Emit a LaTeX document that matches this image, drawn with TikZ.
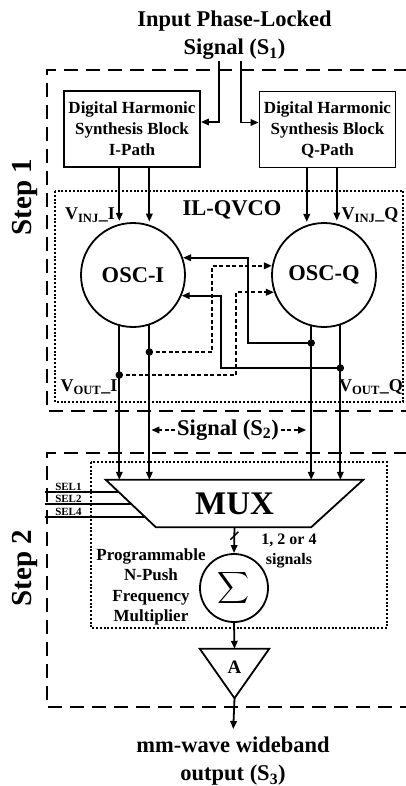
\documentclass[tikz,border=0pt]{standalone}
\usepackage{fontspec}
\usepackage{amsmath}
\usepackage{graphicx}
\setmainfont{Liberation Serif}
\usetikzlibrary{arrows.meta, positioning, calc}

\begin{document}
\begin{tikzpicture}[x=1pt, y=-1pt,
  blk/.style={draw, line width=1.8pt, minimum width=136pt, minimum height=76pt, inner sep=0pt, align=center, font=\fontsize{17}{21}\selectfont\bfseries},
  osc/.style={draw, circle, line width=1.8pt, minimum size=104pt, inner sep=0pt, font=\fontsize{22.5}{26}\selectfont\bfseries},
  sig/.style={line width=1.8pt, -{Triangle[length=8pt, width=6.5pt]}},
  dsig/.style={sig, dash pattern=on 4pt off 2.5pt},
  dot/.style={circle, fill, inner sep=0pt, minimum size=7.5pt},
  stepbox/.style={line width=1.9pt, dash pattern=on 14pt off 8pt},
  grpbox/.style={line width=1.5pt, dash pattern=on 2pt off 1.8pt},
  lbl/.style={align=center, inner sep=2pt, font=\fontsize{22.5}{28}\selectfont\bfseries},
  vlbl/.style={inner sep=0pt, font=\fontsize{18}{20}\selectfont\bfseries},
  sel/.style={anchor=south west, inner sep=0.5pt, font=\fontsize{11}{11}\selectfont\bfseries}
]
  \useasboundingbox (0,0) rectangle (406,786);

  % step frames
  \draw[stepbox] (408,70) -- (47,70) -- (47,411) -- (408,411);
  \draw[stepbox] (408,453) -- (47,453) -- (47,707) -- (408,707);
  \draw[grpbox] (55,191) rectangle (403,402);
  \draw[grpbox] (91,462) rectangle (387,628);
  \node[rotate=90, font=\fontsize{29}{29}\selectfont\bfseries] (step1) at (25,197) {Step 1};
  \node[rotate=90, font=\fontsize{29}{29}\selectfont\bfseries] (step2) at (25,568) {Step 2};

  % step 1: harmonic synthesis and IL-QVCO
  \node[lbl, anchor=south, inner sep=1pt] (src) at (234.5,61) {Input Phase-Locked\\Signal (S\textsubscript{1})};
  \node[blk] (blkI) at (132,129) {Digital Harmonic\\Synthesis Block\\I-Path};
  \node[blk] (blkQ) at (327.5,129.5) {Digital Harmonic\\Synthesis Block\\Q-Path};
  \draw[sig] ([xshift=-15.5pt]src.south) |- ([yshift=7pt]blkI.east);
  \draw[sig] ([xshift=6.5pt]src.south) |- ([yshift=7pt]blkQ.west);

  \node[osc] (oscI) at (133,275) {OSC-I};
  \node[osc] (oscQ) at (324,275) {OSC-Q};
  \node[lbl] (qvco) at (232,210) {IL-QVCO};
  \node[vlbl] (vinjI) at (90,215) {V\textsubscript{INJ}\_I};
  \node[vlbl] (vinjQ) at (370,215) {V\textsubscript{INJ}\_Q};
  \node[vlbl] (voutI) at (89,387) {V\textsubscript{OUT}\_I};
  \node[vlbl] (voutQ) at (371,387) {V\textsubscript{OUT}\_Q};

  \foreach \a in {105.6, 72.1}
    \draw[sig, shorten >=3pt] (blkI.south -| oscI.\a) -- (oscI.\a);
  \foreach \a in {109.1, 76.7}
    \draw[sig, shorten >=3pt] (blkQ.south -| oscQ.\a) -- (oscQ.\a);

  % step 2: mux, combiner, buffer
  \node[minimum width=257pt, minimum height=47pt, inner sep=0pt, font=\fontsize{33}{33}\selectfont\bfseries] (mux) at (234.5,503.5) {MUX};
  \draw[line width=1.8pt] (mux.north west) -- (mux.north east) -- ([xshift=-52pt]mux.south east) -- ([xshift=50pt]mux.south west) -- cycle;

  \foreach \a in {-105.6, -72.1}
    \draw[sig] (oscI.\a) -- (oscI.\a |- mux.north);
  \foreach \a in {-104.5, -72.1}
    \draw[sig] (oscQ.\a) -- (oscQ.\a |- mux.north);

  % quadrature coupling
  \node[dot] (dIa) at (oscI.-105.6 |- 0,375) {};
  \node[dot] (dIb) at (oscI.-72.1 |- 0,352) {};
  \node[dot] (dQa) at (oscQ.-104.5 |- 0,343) {};
  \node[dot] (dQb) at (oscQ.-72.1 |- 0,368) {};
  \draw[sig] (dQa.center) -| ($(oscI.19.1)+(65,0)$) -- (oscI.19.1);
  \draw[sig] (dQb.center) -| ($(oscI.-23.8)+(39.5,0)$) -- (oscI.-23.8);
  \draw[dsig] (dIb.center) -| ($(oscQ.170)+(-60,0)$) -- (oscQ.170);
  \draw[dsig] (dIa.center) -| ($(oscQ.199.1)+(-38,0)$) -- (oscQ.199.1);

  \node[lbl] (sig2) at (228,430) {Signal (S\textsubscript{2})};
  \draw[dsig, shorten >=2pt] (sig2.west) -- (sig2.west -| oscI.-72.1);
  \draw[dsig, shorten >=5pt] (sig2.east) -- (sig2.east -| oscQ.-104.5);

  \foreach \t/\s in {0.255/1, 0.511/2, 0.787/4} {
    \coordinate (sel\s) at ($(mux.north west)!\t!([xshift=50pt]mux.south west)$);
    \draw[line width=1.5pt] (sel\s) -- (sel\s -| 45,0) node[sel, xshift=9pt] {SEL\s};
  }

  \node[circle, draw, line width=1.8pt, minimum size=68pt, inner sep=0pt] (sum) at (234,588) {\resizebox{32pt}{!}{$\displaystyle\sum$}};
  \draw[sig] (mux.south) -- (sum.north);
  \draw[line width=1.5pt] ($(mux.south)!0.33!(sum.north)+(-4,4)$) -- +(8,-8);
  \node[align=center, font=\fontsize{16}{20}\selectfont\bfseries] (nsig) at (289,551) {1, 2 or 4\\signals};
  \node[align=center, font=\fontsize{17}{20.3}\selectfont\bfseries] (mult) at (151,587) {Programmable\\N-Push\\Frequency\\Multiplier};

  \node[minimum width=69pt, minimum height=49pt, inner sep=0pt] (amp) at (234.5,673.5) {};
  \draw[line width=1.8pt] (amp.north west) -- (amp.north east) -- (amp.south) -- cycle;
  \node[font=\fontsize{19}{19}\selectfont\bfseries] (ampA) at ([yshift=6pt]amp.center) {A};
  \draw[sig] (sum.south) -- (amp.north);

  \node[lbl, anchor=north] (out) at (233,735) {mm-wave wideband\\output (S\textsubscript{3})};
  \draw[sig, shorten >=6pt] (amp.south) -- (out.north);
\end{tikzpicture}
\end{document}
